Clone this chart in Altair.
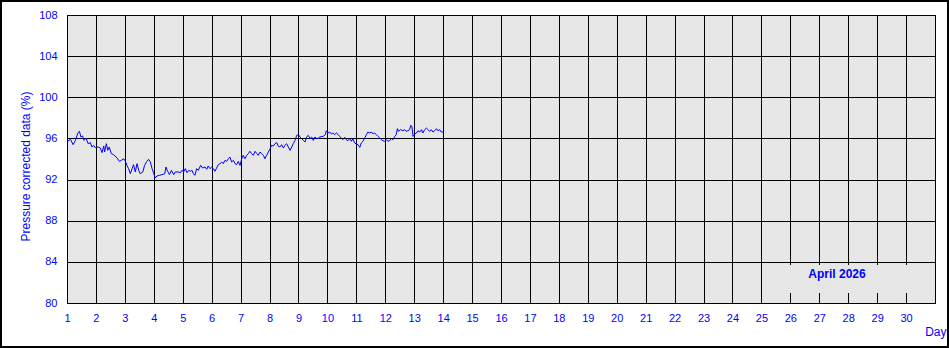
import altair as alt
import pandas as pd

# Pressure corrected data (%), by day of month
days = [
    1.03, 1.12, 1.21, 1.29, 1.38, 1.43, 1.48, 1.54, 1.59, 1.66, 1.73, 1.81, 1.86, 1.92, 1.98,
    2.07, 2.15, 2.21, 2.27, 2.30, 2.36, 2.41, 2.46, 2.53, 2.61, 2.73, 2.81, 2.88, 2.96,
    3.02, 3.07, 3.13, 3.19, 3.25, 3.30, 3.36, 3.42, 3.48, 3.53, 3.62, 3.68, 3.76, 3.82, 3.88, 3.94,
    4.00, 4.05, 4.11, 4.19, 4.28, 4.38, 4.42, 4.48, 4.54, 4.61, 4.69, 4.74, 4.84, 4.92, 4.97,
    5.03, 5.09, 5.15, 5.21, 5.26, 5.32, 5.37, 5.42, 5.48, 5.54, 5.62, 5.69, 5.77, 5.83, 5.88, 5.94,
    6.00, 6.06, 6.11, 6.17, 6.23, 6.29, 6.35, 6.40, 6.46, 6.52, 6.58, 6.63, 6.69, 6.75, 6.81, 6.86, 6.92, 6.98,
    7.04, 7.09, 7.15, 7.21, 7.27, 7.32, 7.38, 7.44, 7.50, 7.56, 7.61, 7.67, 7.73, 7.79, 7.84, 7.90, 7.96,
    8.02, 8.07, 8.13, 8.19, 8.25, 8.30, 8.36, 8.42, 8.48, 8.53, 8.59, 8.65, 8.71, 8.77, 8.82, 8.88, 8.94,
    9.00, 9.05, 9.11, 9.17, 9.23, 9.28, 9.34, 9.40, 9.46, 9.51, 9.57, 9.63, 9.69, 9.74, 9.85, 9.93, 9.96,
    10.02, 10.08, 10.14, 10.19, 10.25, 10.31, 10.37, 10.42, 10.48, 10.54, 10.60, 10.65, 10.71, 10.77, 10.83, 10.88, 10.94,
    11.00, 11.06, 11.12, 11.17, 11.23, 11.29, 11.35, 11.40, 11.46, 11.52, 11.58, 11.63, 11.69, 11.75, 11.81, 11.86, 11.92, 11.98,
    12.04, 12.09, 12.15, 12.21, 12.27, 12.33, 12.38, 12.42, 12.46, 12.53, 12.61, 12.67, 12.72, 12.78, 12.84, 12.88, 12.92, 12.96,
    13.02, 13.08, 13.13, 13.19, 13.25, 13.30, 13.36, 13.42, 13.48, 13.53, 13.59, 13.65, 13.71, 13.77, 13.82, 13.88, 13.94, 14.00,
]
values = [
    95.75, 95.91, 95.39, 95.81, 96.56, 96.69, 96.14, 96.24, 95.81, 96.04, 95.49, 95.59, 95.17, 95.33, 95.10,
    95.17, 95.07, 94.62, 95.26, 94.68, 95.49, 94.84, 95.17, 94.52, 94.42, 94.10, 93.77, 93.87, 94.03,
    93.77, 93.38, 93.06, 92.57, 93.06, 93.45, 92.74, 93.55, 92.90, 92.57, 92.74, 93.38, 93.77, 93.97, 93.71, 93.06,
    92.57, 92.15, 92.35, 92.41, 92.48, 92.57, 93.22, 92.80, 92.48, 92.90, 92.48, 92.74, 92.74, 92.67, 92.90,
    92.74, 93.06, 92.67, 92.90, 92.80, 92.90, 92.57, 92.41, 93.06, 92.90, 93.38, 93.12, 93.22, 93.00, 93.32, 93.06,
    93.22, 93.06, 92.80, 93.12, 93.45, 93.55, 93.71, 93.55, 93.87, 93.77, 94.03, 94.19, 93.71, 93.87, 93.55, 93.45, 93.77, 93.38,
    94.03, 94.36, 94.03, 94.36, 94.52, 94.75, 94.52, 94.36, 94.75, 94.52, 94.36, 94.68, 94.52, 94.36, 94.03, 94.36, 94.68,
    95.00, 95.33, 95.26, 95.49, 95.59, 95.26, 95.17, 95.39, 95.07, 95.33, 95.49, 95.17, 94.84, 95.17, 95.49, 95.81, 96.30,
    96.37, 96.14, 95.98, 95.81, 95.65, 96.14, 96.30, 95.98, 96.14, 95.81, 96.14, 95.98, 96.04, 96.14, 96.20, 96.37, 96.75,
    96.53, 96.62, 96.43, 96.53, 96.37, 96.53, 96.37, 96.20, 96.04, 95.88, 96.11, 95.88, 95.78, 95.98, 95.72, 95.98, 95.56,
    95.46, 95.39, 95.13, 95.56, 95.72, 96.04, 96.37, 96.62, 96.53, 96.62, 96.43, 96.53, 96.37, 96.20, 96.04, 95.88, 95.78, 95.72,
    95.88, 95.72, 95.78, 95.98, 95.88, 96.20, 96.37, 96.95, 96.69, 96.85, 96.75, 96.85, 96.69, 96.75, 96.85, 97.27, 97.18, 96.20,
    96.43, 96.53, 96.75, 96.62, 96.85, 96.53, 96.85, 97.01, 96.85, 96.69, 96.85, 96.62, 96.75, 96.95, 96.75, 96.85, 96.62, 96.62,
]

x_ticks = list(range(1, 32))
y_ticks = list(range(80, 109, 4))
period_label = ["April 2026"]

BLUE = "#0000FF"
FONT = "Liberation Sans"

df = pd.DataFrame({"day": days, "value": values})

x_enc = alt.X(
    "day:Q",
    scale=alt.Scale(domain=[1, 31], nice=False, zero=False),
    axis=alt.Axis(
        values=x_ticks,
        grid=True, gridColor="black", gridOpacity=1, gridWidth=1,
        domain=False, ticks=False,
        labelExpr="datum.value == 31 ? '' : datum.label",
        labelFlush=False,
        labelColor=BLUE, labelFont=FONT, labelFontSize=11, labelPadding=9,
        title="Day", titleColor=BLUE, titleFont=FONT, titleFontSize=12,
        titleFontWeight="normal", titleX=879, titleY=28,
        titleAlign="right", titleBaseline="middle",
    ),
)
y_enc = alt.Y(
    "value:Q",
    scale=alt.Scale(domain=[80, 108], nice=False, zero=False),
    axis=alt.Axis(
        values=y_ticks,
        grid=True, gridColor="black", gridOpacity=1, gridWidth=1,
        domain=False, ticks=False,
        labelColor=BLUE, labelFont=FONT, labelFontSize=11, labelPadding=10,
        title="Pressure corrected data (%)", titleColor=BLUE, titleFont=FONT,
        titleFontSize=12, titleFontWeight="normal",
        titleAngle=270, titleX=-42, titleY=151,
        titleAlign="center", titleBaseline="middle",
    ),
)

line = alt.Chart(df).mark_line(color=BLUE, strokeWidth=1).encode(x=x_enc, y=y_enc)

box_df = pd.DataFrame({"label": period_label})
box = alt.Chart(box_df).mark_rect(color="#E6E6E6").encode(
    x=alt.value(697), x2=alt.value(867), y=alt.value(250), y2=alt.value(278)
)
box_text = alt.Chart(box_df).mark_text(
    color=BLUE, font=FONT, fontSize=12, fontWeight="bold", align="center", baseline="middle"
).encode(x=alt.value(770), y=alt.value(259), text="label:N")

frame = alt.Chart(box_df).mark_rect(
    filled=False, stroke="black", strokeWidth=2, clip=False
).encode(x=alt.value(-66), x2=alt.value(881), y=alt.value(-14), y2=alt.value(332))

chart = alt.layer(line, box, box_text, frame).properties(
    width=868, height=288,
    padding={"left": 67, "top": 15, "right": 14, "bottom": 45},
    autosize=alt.AutoSizeParams(type="none"),
    background="white",
).configure_view(fill="#E6E6E6", stroke="black", strokeWidth=1)

chart.save("out.html", embed_options={"renderer": "svg", "actions": False})
